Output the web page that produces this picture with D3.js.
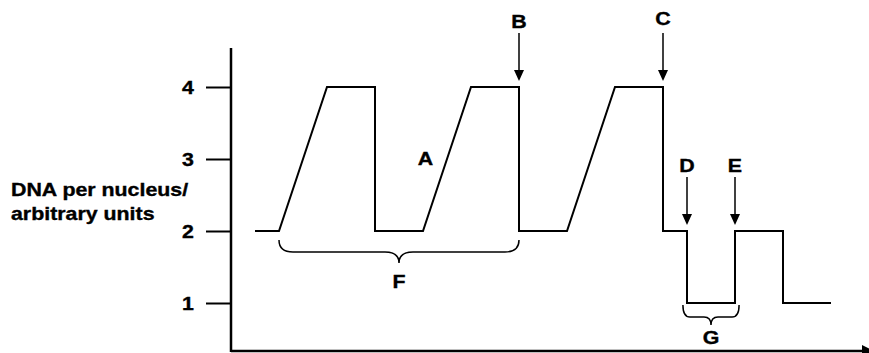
<!DOCTYPE html>
<html>
<head>
<meta charset="utf-8">
<script src="https://cdn.jsdelivr.net/npm/d3@7/dist/d3.min.js"></script>
<style>
  html, body { margin: 0; padding: 0; background: #fff; }
  svg { display: block; }
  text { font-family: "Liberation Sans", Arial, sans-serif; font-weight: bold; fill: #000; stroke: #000; stroke-width: 0.35px; }
</style>
</head>
<body>
<div id="chart"></div>
<script>
// ---- data ----
const times  = [1, 2, 4, 6, 6, 8, 10, 12, 12, 14, 16, 18, 18, 19, 19, 21, 21, 23, 23, 25];
const values = [2, 2, 4, 4, 2, 2, 4, 4, 2, 2, 4, 4, 2, 2, 1, 1, 2, 2, 1, 1];
const yTicks = [1, 2, 3, 4];
const yLabelLines = ["DNA per nucleus/", "arbitrary units"];
const arrowLabels = ["B", "C", "D", "E"];
const arrowTimes  = [12, 18, 19, 21];
const arrowValues = [4, 4, 2, 2];
const braceLabels = ["F", "G"];
const braceStart  = [2, 18.83];
const braceEnd    = [12, 21.17];
const textLabels  = ["A"];
const textTimes   = [8.1];
const textValues  = [3];

// ---- layout ----
const W = 869, H = 353;
const SX = 1.22;       // horizontal stretch of the text in the original
const FS = 17.5;

const svg = d3.select("#chart").append("svg").attr("width", W).attr("height", H);

const x = d3.scaleLinear().domain([0, 26.5]).range([231, 867]);
const y = d3.scaleLinear().domain([0, 4]).range([375, 87]);

function stretchedText(g, str, px, py, anchor) {
  return g.append("text")
    .attr("transform", `translate(${px},${py}) scale(${SX},1)`)
    .attr("text-anchor", anchor || "middle")
    .attr("dy", "0.36em")
    .style("font-size", FS + "px")
    .text(str);
}

// y axis with ticks
const yAxis = d3.axisLeft(y).tickValues(yTicks).tickFormat(d3.format("d"))
  .tickSize(25).tickSizeOuter(0).tickPadding(0);
const gy = svg.append("g").attr("transform", `translate(${x(0)},0)`).call(yAxis);
gy.select(".domain").remove();
gy.selectAll(".tick line").attr("stroke", "#000").attr("stroke-width", 2);
gy.selectAll(".tick text")
  .attr("x", null).attr("dy", "0.36em")
  .attr("text-anchor", "middle")
  .attr("fill", "#000")
  .attr("transform", `translate(-43,0) scale(${SX},1)`)
  .style("font-size", FS + "px")
  .style("font-family", "'Liberation Sans', Arial, sans-serif")
  .style("font-weight", "bold");

// axis lines
svg.append("line").attr("x1", x(0)).attr("x2", x(0)).attr("y1", 48).attr("y2", 352)
  .attr("stroke", "#000").attr("stroke-width", 2.5);
svg.append("line").attr("x1", x(0)).attr("x2", 864).attr("y1", 351).attr("y2", 351)
  .attr("stroke", "#000").attr("stroke-width", 2.5);
svg.append("path").attr("d", "M862,345 L874,351 L862,357 Z").attr("fill", "#000");

// y label
yLabelLines.forEach((s, i) => stretchedText(svg, s, 11, 190 + i * 24, "start"));

// data line
const pts = times.map((t, i) => [t, values[i]]);
svg.append("path")
  .attr("d", d3.line().x(d => x(d[0])).y(d => y(d[1]))(pts))
  .attr("fill", "none").attr("stroke", "#000").attr("stroke-width", 2)
  .attr("stroke-linejoin", "miter");

// arrows with labels
arrowLabels.forEach((lab, i) => {
  const ax = x(arrowTimes[i]);
  const yl = y(arrowValues[i]);
  const len = 54;
  const tip = yl - 6;
  const top = yl - len;
  svg.append("line").attr("x1", ax).attr("x2", ax).attr("y1", top).attr("y2", tip - 8)
    .attr("stroke", "#000").attr("stroke-width", 1.5);
  svg.append("path").attr("d", `M${ax - 5},${tip - 11} L${ax + 5},${tip - 11} L${ax},${tip} Z`).attr("fill", "#000");
  stretchedText(svg, lab, ax, top - (lab === "C" ? 14 : 11));
});

// text labels
textLabels.forEach((lab, i) => stretchedText(svg, lab, x(textTimes[i]), y(textValues[i])));

// braces
function bracePath(x1, x2, y0, h1, h2, r) {
  const xm = (x1 + x2) / 2, y1 = y0 + h1, y2 = y1 + h2;
  return `M${x1},${y0} Q${x1},${y1} ${x1 + r},${y1} L${xm - r},${y1} Q${xm},${y1} ${xm},${y2}` +
         ` Q${xm},${y1} ${xm + r},${y1} L${x2 - r},${y1} Q${x2},${y1} ${x2},${y0}`;
}
braceLabels.forEach((lab, i) => {
  const x1 = x(braceStart[i]), x2 = x(braceEnd[i]);
  const big = i === 0;
  const y0 = big ? 240 : 305;
  const h1 = 12;
  const h2 = big ? 11 : 8;
  const r = big ? 14 : 7;
  svg.append("path").attr("d", bracePath(x1, x2, y0, h1, h2, r))
    .attr("fill", "none").attr("stroke", "#000").attr("stroke-width", 1.5);
  stretchedText(svg, lab, (x1 + x2) / 2, big ? 282 : 338);
});
</script>
</body>
</html>
